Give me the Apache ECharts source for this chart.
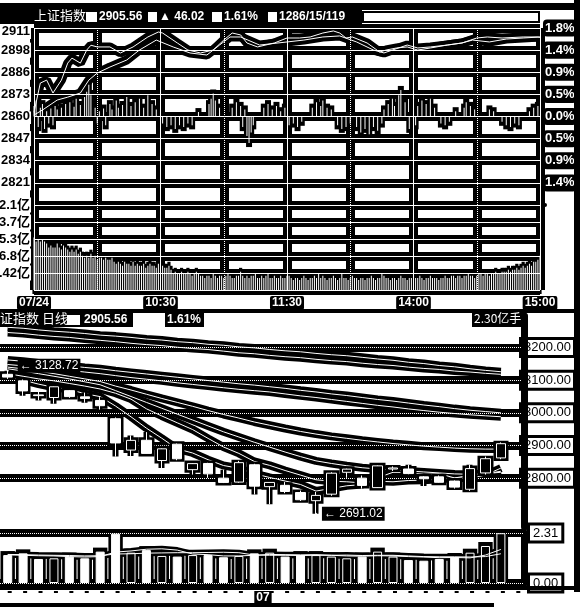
<!DOCTYPE html>
<html><head><meta charset="utf-8">
<script src="https://cdn.jsdelivr.net/npm/echarts@6/dist/echarts.min.js"></script>
<style>html,body{margin:0;padding:0;background:#fff}#c{width:580px;height:609px}</style>
</head><body><div id="c"></div>
<script>
// ===== intraday (分时) =====
const priceTicks = ['', '2821', '2834', '2847', '2860', '2873', '2886', '2898', '2911'];
const pctTicks = ['', '1.4%', '0.9%', '0.5%', '0.0%', '0.5%', '0.9%', '1.4%', '1.8%'];
const volTicks = ['', '8.42亿', '16.8亿', '25.3亿', '33.7亿', '42.1亿'];
const timeLabels = ['07/24', '10:30', '11:30', '14:00', '15:00'];

const priceMin = [0,3,6,9,13,16,18,22,25,27,30,36,41,47,54,59,61,68,73,79,85,90,94,98,101,106,114,120,126,131,137,142,145,148,151,158,164,167,172,177,182,188,196,203,210,215,222,232,239,240];
const priceVal = [2862,2879,2880.7,2873.2,2880.7,2890.6,2893.5,2890.6,2898.2,2901,2900,2900,2896.5,2900,2905.8,2908.7,2908.1,2902.3,2898.2,2896.5,2898.2,2904,2908.1,2907,2902.3,2900,2902.3,2905.2,2905.2,2905.8,2908.1,2909.3,2908.1,2905.2,2905.8,2902.3,2897,2898.2,2899.4,2900,2898.2,2899.4,2901.1,2902.3,2905.2,2905.8,2905.2,2905.8,2905.8,2905.56];
const avgMin = [0,4,11,16,22,26,30,36,44,50,58,66,74,82,88,93,98,107,120,128,137,145,153,161,166,170,177,182,188,196,203,208,216,224,232,240];
const avgVal = [2860.4,2863.3,2869.1,2870.8,2873.2,2880.7,2884.8,2888.3,2892.4,2898.2,2904,2900,2896.5,2895.3,2901.1,2905.8,2905.8,2901.1,2902.9,2904,2905.8,2906.4,2902.9,2898.2,2896.5,2898.2,2901.1,2899.4,2900,2901.1,2902.3,2904,2902.9,2904.6,2905.2,2905.8];

const leadMin = [0,1,2,3,4,5,6,7,8,9,10,11,13,15,17,19,20,22,24,25,26,27,29,30,31,33,34,36,37,39,40,42,44,46,48,50,52,54,56,58,61,63,65,67,69,71,73,75,78,83,84,85,86,88,94,96,98,99,100,101,102,103,104,109,111,113,115,117,119,121,123,125,127,132,134,136,137,139,141,144,146,148,150,153,155,157,159,161,163,165,166,168,170,171,173,174,176,178,180,181,182,184,186,188,190,193,195,197,200,204,205,207,209,216,218,222,224,226,228,230,235,237,239];
const leadVal = [0.12,0.18,-0.12,0.10,0.14,-0.14,0.06,-0.08,0.09,-0.10,0.12,0.08,0.10,0.14,0.16,0.11,0.20,0.13,0.22,0.28,0.36,0.24,0.10,-0.08,0.06,0.09,-0.10,0.14,0.08,0.18,0.10,0.13,0.22,0.12,0.16,0.20,0.10,0.24,0.14,0.08,-0.08,-0.12,-0.10,-0.14,-0.10,-0.12,-0.08,-0.10,0.05,0.14,0.20,0.26,0.18,0.10,0.10,0.16,0.12,-0.12,0.08,-0.22,-0.30,-0.18,-0.10,0.10,0.14,0.08,0.12,0.06,0.10,-0.10,-0.08,-0.12,-0.06,0.10,0.16,0.12,0.18,0.10,0.08,-0.10,-0.14,-0.12,-0.08,-0.12,-0.18,-0.14,-0.20,-0.12,-0.16,-0.08,0.08,0.14,0.20,0.12,0.24,0.30,0.16,-0.14,-0.18,-0.10,0.12,0.18,0.14,0.20,0.10,-0.08,-0.10,-0.06,0.06,0.10,0.16,0.12,0.08,0.08,0.06,-0.06,-0.10,-0.12,-0.08,-0.10,0.06,0.10,0.12];

const minuteVol = [
26,24,25,24,25,24,23,
21,22,21,21,23,21,20,22,21,20,
19,20,19,20,18,19,
17,16,17,16,18,16,17,15,16,
16,15,16,15,15,16,14,
13,14,13,12,14,13,13,12,14,
12,13,12,12,13,11,12,13,12,12,11,13,12,12,
11,11,12,10,
8,9,8,8,9,8,8,9,8,7,8,9,8,7,
7,6,7,7,6,8,7,6,7,7,6,7,8,7,6,6,7,7,9,7,6,7,6,7,7,8,6,6,7,6,7,8,6,6,7,6,6,7,6,6,7,7,
6,5,6,6,5,6,7,6,5,6,
6,7,6,8,6,7,6,5,6,6,
7,6,5,6,8,6,6,5,6,7,
6,6,5,6,6,5,6,6,7,6,
5,6,6,8,7,6,6,5,6,6,
5,6,7,6,6,5,6,6,5,6,
6,7,6,5,6,6,7,6,6,6,
5,6,6,7,6,6,7,7,6,7,
7,6,7,7,8,7,7,6,7,8,
8,7,8,8,7,8,8,9,8,8,9,
9,9,10,9,10,10,11,10,11,12,11,12,13,12,14,14,15,17];

// ===== daily (日线) =====
const dayCats = ['06-07','06-08','06-11','06-12','06-13','06-14','06-15','06-19','06-20','06-21','06-22','06-25','06-26','06-27','06-28','06-29','07-02','07-03','07-04','07-05','07-06','07-09','07-10','07-11','07-12','07-13','07-16','07-17','07-18','07-19','07-20','07-23','07-24',''];
const dayOpen = [3118,3098,3055,3047,3068,3049,3038,2982,2886,2916,2854,2904,2826,2845,2800,2788,2841,2774,2778,2756,2731,2751,2818,2800,2771,2828,2828,2804,2804,2791,2766,2816,2862];
const dayClose = [3109.50,3067.15,3052.78,3079.80,3049.80,3044.16,3021.90,2907.82,2915.73,2875.81,2889.76,2859.34,2844.51,2813.18,2786.90,2847.42,2775.56,2786.89,2759.13,2733.88,2747.23,2815.11,2827.63,2777.77,2837.66,2831.18,2814.04,2798.13,2787.26,2772.55,2829.27,2859.54,2905.56];
const dayLow = [3104,3052,3038,3028,3046,3031,3010,2866,2868,2875,2831,2855,2811,2801,2785,2786,2750,2720,2754,2730,2691.02,2746,2801,2768,2770,2822,2812,2776,2786,2768,2761,2811,2858];
const dayHigh = [3128.72,3102,3064,3080.5,3070,3062,3048,2986,2931,2941,2891,2906,2846,2847,2826,2853,2844,2787,2788,2762,2758,2818,2829,2808,2839,2836,2841,2806,2808,2793,2841,2866,2909.5];
const maA = [3262,3259,3254,3250,3247,3243,3238,3235,3231,3226,3223,3218,3215,3210,3207,3202,3199,3194,3190,3187,3182,3178,3175,3170,3165,3161,3155,3151,3145,3141,3135,3130,3126];
const maB = [3246,3243,3238,3234,3231,3226,3222,3218,3213,3209,3206,3201,3197,3194,3189,3184,3181,3176,3172,3169,3164,3160,3157,3152,3148,3145,3140,3136,3133,3128,3125,3121,3118];
const maC = [3162,3158,3153,3149,3144,3139,3135,3129,3124,3119,3114,3109,3104,3099,3094,3089,3085,3080,3075,3069,3064,3058,3053,3047,3041,3036,3030,3024,3019,3013,3008,3004,3000];
const maD = [3148,3144,3140,3135,3130,3125,3120,3114,3108,3103,3098,3092,3087,3082,3077,3072,3068,3064,3058,3052,3047,3041,3035,3029,3023,3018,3012,3007,3002,2998,2994,2991,2988];
const maE = [3140,3135,3128,3120,3112,3104,3096,3082,3070,3057,3044,3032,3020,3007,2995,2984,2972,2962,2952,2943,2935,2928,2922,2916,2911,2906,2902,2898,2895,2892,2890,2889,2889];
const maF = [3135,3128,3120,3112,3104,3095,3086,3068,3050,3032,3014,2996,2978,2960,2942,2926,2910,2895,2880,2866,2853,2845,2838,2832,2828,2825,2822,2819,2816,2813,2812,2814,2818];
const maG = [3120,3112,3104,3098,3090,3082,3073,3060,3042,3012.4,2990.4,2969.6,2948.8,2921.8,2895.5,2875.8,2851.2,2839.1,2823.4,2809.3,2795.1,2790.6,2788.9,2785.4,2790.5,2788.9,2792.8,2793.9,2796.7,2800.6,2808.8,2813.3,2821.1];
const maH = [3110,3100,3088,3078,3071.6,3058.7,3049.7,3020.7,2987.9,2953.1,2922.2,2889.7,2877.0,2856.5,2838.7,2830.3,2813.5,2802.0,2791.2,2780.6,2760.5,2768.4,2776.6,2780.3,2801.1,2817.9,2817.7,2811.8,2813.7,2800.6,2800.3,2809.4,2830.8];
const dayVol = [1.29,1.37,1.11,1.14,1.22,1.14,1.45,2.28,1.40,1.52,1.25,1.22,1.29,1.29,1.19,1.25,1.37,1.40,1.22,1.29,1.29,1.22,1.14,1.22,1.45,1.22,1.06,1.03,1.11,1.20,1.40,1.71,2.30];
const volMaA = [1.30,1.28,1.26,1.25,1.22,1.20,1.22,1.43,1.48,1.56,1.58,1.52,1.34,1.31,1.25,1.25,1.28,1.32,1.31,1.30,1.31,1.28,1.25,1.24,1.26,1.25,1.22,1.20,1.17,1.18,1.16,1.29,1.55];
const volMaB = [1.32,1.31,1.29,1.28,1.27,1.25,1.26,1.34,1.35,1.38,1.39,1.40,1.40,1.41,1.42,1.40,1.29,1.28,1.28,1.27,1.28,1.28,1.29,1.27,1.28,1.28,1.25,1.22,1.21,1.21,1.20,1.22,1.35];
const dayGridLo = 2800, dayGridHi = 3200, dayGridStep = 100;
const dayVolTicks = ['0.00', '2.31'];

// ===== build =====
const B = '#000', W = '#fff';
const FONT = '"Liberation Sans","Noto Sans CJK SC",sans-serif';
const pStep = 12.87, pLo = 2808.06, pHi = pLo + 8 * pStep;
const vStep = 8.42, vHi = 5 * vStep;

const pricePts = priceMin.map((m, i) => [m, priceVal[i]]);
const avgPts = avgMin.map((m, i) => [m, avgVal[i]]);
const leadPts = leadMin.map((m, i) => [m, leadVal[i]]);
const volPts = minuteVol.map((v, i) => [i, v]);
const dayVolPts = dayVol.map((v, i) => [i, v]);
const candles = dayOpen.map((o, i) => [o, dayClose[i], dayLow[i], dayHigh[i]]);
const pad = a => a.concat(['-']);

let hiIdx = 0, loIdx = 0;
dayHigh.forEach((v, i) => { if (v > dayHigh[hiIdx]) hiIdx = i; });
dayLow.forEach((v, i) => { if (v < dayLow[loIdx]) loIdx = i; });

const hidden = { axisLine: { show: false }, axisTick: { show: false }, axisLabel: { show: false } };
function vx(grid, interval, color, width, type, z, pos, extra) {
  return Object.assign({ type: 'value', gridIndex: grid, position: pos, min: 0, max: 240, interval: interval, z: z,
    splitLine: { show: true, lineStyle: { color: color, width: width, type: type } } }, hidden, extra || {});
}
function vy(grid, min, max, interval, color, width, type, z, extra) {
  return Object.assign({ type: 'value', gridIndex: grid, min: min, max: max, interval: interval, z: z,
    splitLine: { show: true, lineStyle: { color: color, width: width, type: type } } }, hidden, extra || {});
}
const leftLbl = { show: true, color: B, fontWeight: 'bold', fontSize: 13, fontFamily: FONT, backgroundColor: W, padding: [1, 1], margin: 3,
  rich: { t: { color: B, fontWeight: 'bold', fontSize: 13, fontFamily: FONT, padding: [7, 0, 0, 0] } } };

const grids = [
  { left: 34, top: 28, width: 506, height: 177 },
  { left: 34, top: 205, width: 506, height: 85 },
  { left: 0, top: 316, width: 524, height: 211 },
  { left: 0, top: 533, width: 524, height: 50 },
  { left: 0, top: 347.55, width: 574, height: 130.6 },
  { left: 0, top: 347.55, width: 522, height: 130.6 }
].map(g => Object.assign(g, { containLabel: false, outerBoundsMode: 'none' }));

const xAxes = [
  vx(0, 30, B, 9, 'solid', 0, 'bottom'),
  vx(0, 30, W, 1, 'dotted', 2, 'top'),
  vx(0, 60, W, 1, 'solid', 2, 'top'),
  vx(1, 30, B, 9, 'solid', 0, 'top'),
  vx(1, 30, W, 1, 'dotted', 2, 'top'),
  vx(1, 60, W, 1, 'solid', 2, 'bottom', { axisLabel: { show: true, formatter: (v, i) => timeLabels[i] || '', color: W, backgroundColor: B,
    fontWeight: 'bold', fontSize: 12, fontFamily: FONT, padding: [1, 2], borderRadius: 2, margin: 6 } }),
  { type: 'category', gridIndex: 2, data: dayCats, show: false },
  { type: 'category', gridIndex: 3, data: dayCats, position: 'bottom', axisLine: { show: false }, axisTick: { show: false }, z: 6,
    axisLabel: { show: true, interval: 0, align: 'left', margin: 8, color: W, backgroundColor: B, fontWeight: 'bold', fontSize: 12,
      fontFamily: FONT, padding: [1, 2],
      formatter: (v, i) => (i > 0 && v && dayCats[i - 1].slice(0, 2) !== v.slice(0, 2)) ? v.slice(0, 2) : '' } },
  { type: 'category', gridIndex: 3, data: dayCats, position: 'top', show: false },
  { type: 'value', gridIndex: 4, show: false },
  { type: 'value', gridIndex: 5, show: false }
];
const yAxes = [
  vy(0, pLo, pHi, pStep, B, 9, 'solid', 0, { position: 'left', axisLabel: Object.assign({}, leftLbl,
    { formatter: (v, i) => i === 8 ? '{t|' + priceTicks[i] + '}' : (priceTicks[i] || '') }) }),
  vy(0, pLo, pHi, pStep, W, 1, 'solid', 2, { position: 'right', axisLabel: { show: true, formatter: (v, i) => pctTicks[i] || '',
    color: W, backgroundColor: B, fontWeight: 'bold', fontSize: 13, fontFamily: FONT, padding: [2, 2], borderRadius: 4, margin: 3 } }),
  { type: 'value', gridIndex: 0, min: -1, max: 1, show: false },
  vy(1, 0, vHi, vStep, B, 9, 'solid', 0, { position: 'left', axisLabel: Object.assign({}, leftLbl, { formatter: (v, i) => volTicks[i] || '' }) }),
  vy(1, 0, vHi, vStep, W, 1, 'solid', 2, { position: 'right' }),
  { type: 'value', gridIndex: 2, min: 2650.4, max: 3296.6, position: 'right', z: 6, splitLine: { show: false },
    axisLine: { show: true, lineStyle: { color: B, width: 7 } }, axisTick: { show: false }, axisLabel: { show: false } },
  vy(3, 0, 2.31, 2.31, B, 8, 'solid', 0, { position: 'right', axisLine: { show: true, lineStyle: { color: B, width: 7 } },
    axisLabel: { show: true, formatter: (v, i) => dayVolTicks[i] || '', color: B, backgroundColor: W, borderColor: B, borderWidth: 3,
      fontSize: 13, fontFamily: FONT, padding: [1, 3], margin: 6 } }),
  vy(3, 0, 2.31, 2.31, W, 1, 'dotted', 2, { position: 'left' }),
  vy(4, dayGridLo, dayGridHi, dayGridStep, B, 8, 'solid', 0, { position: 'right',
    axisLabel: { show: true, inside: true, formatter: v => v.toFixed(2), color: B, backgroundColor: W, borderColor: B, borderWidth: 3,
      fontSize: 13, fontFamily: FONT, padding: [1, 2], margin: 1 } }),
  vy(5, dayGridLo, dayGridHi, dayGridStep, W, 1, 'dotted', 2, { position: 'left' })
];

function line(name, xi, yi, data, color, width, z) {
  return { name: name, type: 'line', xAxisIndex: xi, yAxisIndex: yi, data: data, symbol: 'none', silent: true,
    lineStyle: { color: color, width: width }, z: z };
}
function bar(name, xi, yi, data, fill, bwid, z) {
  return { name: name, type: 'bar', xAxisIndex: xi, yAxisIndex: yi, data: data, barWidth: bwid, silent: true,
    itemStyle: { color: fill }, z: z };
}
// black outline ("halo") behind a bar: a rect from the value to zero, grown by `grow` px, drawn through the axes
function halo(name, xi, yi, data, halfW, grow, z) {
  return { name: name, type: 'custom', xAxisIndex: xi, yAxisIndex: yi, data: data, silent: true, z: z,
    renderItem: (params, api) => {
      const p = api.coord([api.value(0), api.value(1)]);
      const b = api.coord([api.value(0), 0]);
      const top = Math.min(p[1], b[1]) - grow, bot = Math.max(p[1], b[1]) + grow;
      return { type: 'rect', shape: { x: p[0] - halfW, y: top, width: halfW * 2, height: bot - top }, style: { fill: B } };
    } };
}

const series = [];
// intraday halos
series.push(halo('leadH', 0, 2, leadPts, 3, 4, 1));
series.push(halo('volH', 3, 3, volPts, 1.6, 4, 1));
series.push(line('avgH', 0, 0, avgPts, B, 9, 1));
series.push(line('priceH', 0, 0, pricePts, B, 9, 1));
// intraday cores
series.push(bar('lead', 2, 2, leadPts, W, 1, 3));
series.push(bar('vol', 5, 3, volPts, W, 1, 3));
series.push(line('avg', 2, 1, avgPts, W, 1, 3));
series.push(line('price', 2, 1, pricePts, W, 1, 3));
// daily MA lines
const mas = [maA, maB, maC, maD, maE, maF, maG, maH];
mas.forEach((m, i) => series.push(line('maH' + i, 6, 5, pad(m), B, 8, 1)));
mas.forEach((m, i) => series.push(line('ma' + i, 6, 5, pad(m), W, 1, 2)));
// candles
series.push({ name: 'kH', type: 'candlestick', xAxisIndex: 6, yAxisIndex: 5, data: pad(candles), barWidth: 10, silent: true, z: 3,
  itemStyle: { color: B, color0: B, borderColor: B, borderColor0: B, borderWidth: 6 } });
series.push({ name: 'k', type: 'candlestick', xAxisIndex: 6, yAxisIndex: 5, data: pad(candles), barWidth: 10, silent: true, z: 4,
  itemStyle: { color: B, color0: W, borderColor: W, borderColor0: W, borderWidth: 1 },
  markPoint: { symbol: 'circle', symbolSize: 2, itemStyle: { color: W }, z: 5,
    label: { show: true, position: 'right', color: W, backgroundColor: B, fontSize: 12, fontFamily: FONT, padding: [1, 2],
      formatter: p => '← ' + p.value.toFixed(2) },
    data: [
      { coord: [dayCats[hiIdx], dayHigh[hiIdx]], value: dayHigh[hiIdx], label: { offset: [4, -5] } },
      { coord: [dayCats[loIdx], dayLow[loIdx]], value: dayLow[loIdx], label: { offset: [0, 0] } }
    ] } });
// daily volume
series.push(halo('dvH', 7, 6, dayVolPts, 7.2, 4, 1));
series.push(line('dvmaH1', 7, 6, pad(volMaB), B, 6, 2));
series.push(line('dvmaH2', 7, 6, pad(volMaA), B, 6, 2));
series.push({ name: 'dv', type: 'bar', xAxisIndex: 8, yAxisIndex: 7, barWidth: 9, silent: true, z: 3,
  data: pad(dayVol.map((v, i) => ({ value: v, itemStyle: dayClose[i] >= dayOpen[i]
    ? { color: B, borderColor: W, borderWidth: 1 } : { color: W, borderColor: W, borderWidth: 1 } }))) });
series.push(line('dvma1', 8, 7, pad(volMaB), W, 1, 4));
series.push(line('dvma2', 8, 7, pad(volMaA), W, 1, 4));

function rect(x, y, w, h, fill, extra) {
  return Object.assign({ type: 'rect', z: 100, silent: true, shape: { x: x, y: y, width: w, height: h }, style: { fill: fill } }, extra || {});
}
function text(x, y, t, font) {
  return { type: 'text', z: 101, silent: true, x: x, y: y, style: { text: t, fill: W, font: font, verticalAlign: 'top' } };
}
const NUMF = 'bold 12px "Liberation Sans", sans-serif';
const CJKF = '13px "Noto Sans CJK SC", sans-serif';
const graphic = [
  rect(0, 3, 574, 7, B),
  rect(0, 10, 362, 14, B),
  rect(86, 12, 11, 10, W), rect(148, 12, 9, 10, W), rect(212, 12, 10, 10, W), rect(268, 12, 9, 10, W),
  { type: 'rect', z: 100, silent: true, shape: { x: 363, y: 12, width: 176, height: 10 }, style: { fill: W, stroke: B, lineWidth: 2 } },
  text(34, 9, '上证指数', CJKF),
  text(99, 11, '2905.56', NUMF),
  text(159, 11, '▲ 46.02', NUMF),
  text(224, 11, '1.61%', NUMF),
  text(279, 11, '1286/15/119', NUMF),
  rect(574, 0, 6, 592, B),
  rect(0, 309, 580, 4, B),
  rect(0, 313, 133, 14, B),
  rect(67, 315, 13, 10, W),
  text(-13, 312, '上证指数 日线', CJKF),
  text(84, 314, '2905.56', NUMF),
  rect(165, 313, 39, 14, B),
  text(167, 314, '1.61%', NUMF),
  rect(472, 313, 51, 14, B),
  text(474, 312, '2.30亿手', '12px "Noto Sans CJK SC", sans-serif'),
  rect(0, 586, 574, 4, B),
  rect(0, 603, 494, 4, B)
];

const chart = echarts.init(document.getElementById('c'));
chart.setOption({
  animation: false,
  backgroundColor: W,
  textStyle: { fontFamily: FONT },
  grid: grids,
  xAxis: xAxes,
  yAxis: yAxes,
  series: series,
  graphic: graphic
});
</script>
</body></html>
